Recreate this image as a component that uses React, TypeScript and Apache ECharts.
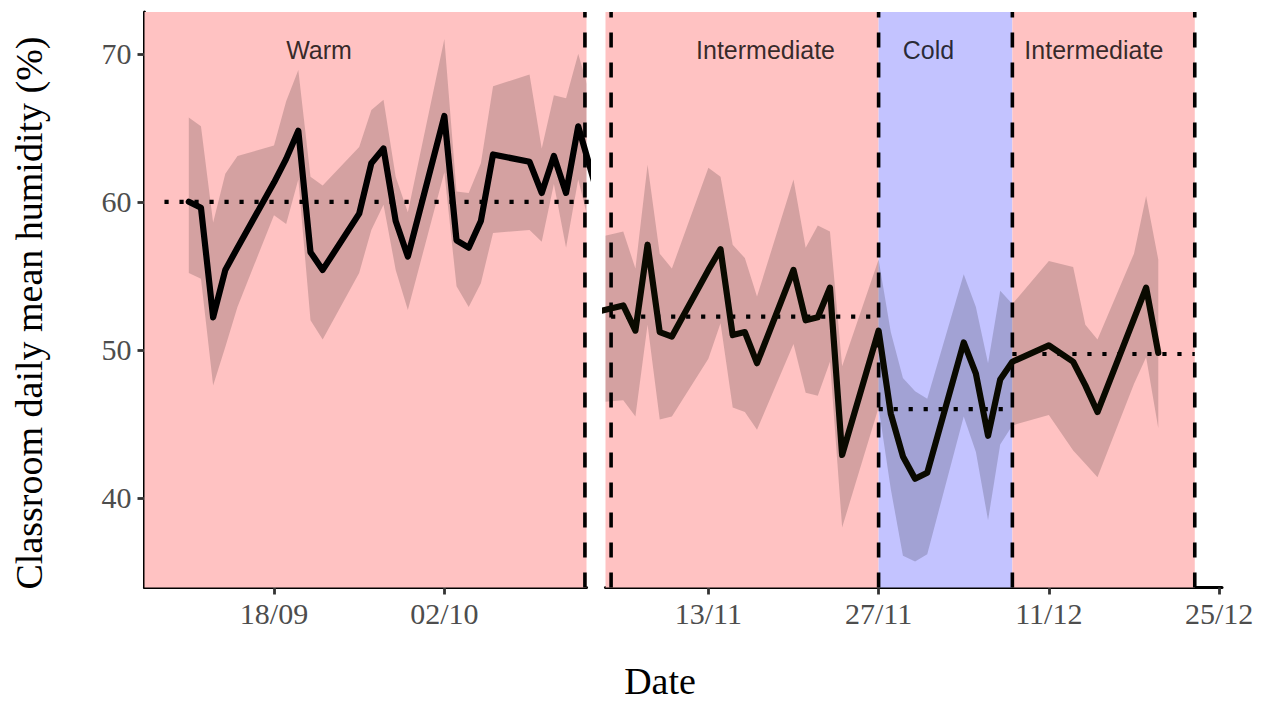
import React, { useEffect, useRef } from 'react';
import * as echarts from 'echarts';

// ---------- data ----------
const BASE = Date.UTC(2023, 8, 4);
const DAY = 86400000;
const toDay = (s: string) => (Date.parse(s.length === 10 ? s + 'T00:00:00Z' : s) - BASE) / DAY;

// Warm season panel (daily classroom mean humidity, with min/max band)
const warmDates = ['2023-09-11','2023-09-12','2023-09-13','2023-09-14','2023-09-15','2023-09-18','2023-09-19','2023-09-20','2023-09-21','2023-09-22','2023-09-25','2023-09-26','2023-09-27','2023-09-28','2023-09-29','2023-10-02','2023-10-03','2023-10-04','2023-10-05','2023-10-06','2023-10-09','2023-10-10','2023-10-11','2023-10-12','2023-10-13','2023-10-16'];
const warmMean = [60.0,59.6,52.2,55.4,56.9,61.3,62.9,64.8,56.6,55.4,59.2,62.6,63.6,58.7,56.3,65.8,57.4,56.9,58.7,63.2,62.7,60.6,63.1,60.6,65.1,56.5];
const warmHigh = [65.7,65.1,58.6,61.9,63.1,63.8,66.8,68.9,61.7,61.1,63.7,66.2,66.9,61.7,59.3,71.0,60.7,60.6,62.6,67.8,68.6,63.6,67.2,67.0,70.0,61.5];
const warmLow = [55.2,54.8,47.6,50.2,52.9,59.1,58.5,61.5,52.0,50.7,55.2,58.1,59.8,55.4,52.7,62.0,54.3,52.9,54.5,57.9,58.1,57.3,61.2,56.9,61.5,51.5];

// Autumn / winter panel
const winterDates = ['2023-11-03','2023-11-06','2023-11-07','2023-11-08','2023-11-09','2023-11-10','2023-11-13','2023-11-14','2023-11-15','2023-11-16','2023-11-17','2023-11-20','2023-11-21','2023-11-22','2023-11-23','2023-11-24','2023-11-27','2023-11-28','2023-11-29','2023-11-30','2023-12-01','2023-12-04','2023-12-05','2023-12-06','2023-12-07','2023-12-08','2023-12-11','2023-12-13','2023-12-14','2023-12-15','2023-12-18','2023-12-19','2023-12-20'];
const winterMean = [52.4,53.0,51.3,57.1,51.2,50.9,55.4,56.8,51.0,51.2,49.1,55.4,52.0,52.2,54.2,42.9,51.3,45.7,42.8,41.3,41.7,50.5,48.4,44.2,48.0,49.2,50.3,49.2,47.6,45.8,52.1,54.2,49.8];
const winterHigh = [57.4,58.0,55.5,62.5,56.5,55.5,62.3,61.7,57.1,56.2,53.6,61.5,56.9,58.4,58.0,48.9,56.1,51.2,48.1,47.2,46.7,55.1,52.9,49.1,54.0,53.1,56.0,55.6,51.7,50.7,56.5,60.4,56.1];
const winterLow = [46.4,46.6,45.5,51.7,45.3,45.5,49.4,51.8,46.1,45.8,44.6,50.4,47.1,46.9,49.2,38.0,46.1,40.6,36.1,35.7,36.2,45.5,43.1,38.5,43.6,44.9,45.6,43.2,42.3,41.4,47.7,49.5,44.7];

// Periods
const periodNames = ['Warm', 'Intermediate', 'Cold', 'Intermediate'];
const periodKind = ['warm', 'intermediate', 'cold', 'intermediate'];
const periodPanel = [0, 1, 1, 1];
const periodStart = ['2023-09-09', '2023-11-05', '2023-11-27', '2023-12-08'];
const periodEnd = ['2023-10-14', '2023-11-27', '2023-12-08', '2023-12-23'];
const periodMean = [60.0, 52.24, 46.0, 49.72];

// Period boundaries drawn as dashed lines
const boundaryDates = ['2023-10-13T13:12:00Z', '2023-11-05', '2023-11-27', '2023-12-08', '2023-12-23'];
const boundaryPanel = [0, 1, 1, 1, 1];

// Axis ticks
const xTickDates = [['2023-09-18', '2023-10-02'], ['2023-11-13', '2023-11-27', '2023-12-11', '2023-12-25']];
const yTicks = [40, 50, 60, 70];

// ---------- layout ----------
const panelXMin = [3.36, 61.54];
const panelXMax = [39.68, 112.24];
const Y_MIN = 33.95;
const Y_MAX = 72.82;
const labelDay = [17.7, 74.7, 88.1, 101.7];
const labelValue = 70.27;

const SERIF = '"Liberation Serif", "Times New Roman", serif';
const SANS = '"Liberation Sans", Arial, sans-serif';
const BG: Record<string, string> = { warm: '#FFC2C2', intermediate: '#FFC2C2', cold: '#C3C3FF' };
const RIBBON = 'rgba(0,0,0,0.17)';

const pad = (n: number) => (n < 10 ? '0' + n : '' + n);
const fmtDate = (v: number) => {
  const d = new Date(BASE + Math.round(v) * DAY);
  return pad(d.getUTCDate()) + '/' + pad(d.getUTCMonth() + 1);
};

function buildOption(): any {
  const panels = [
    { dates: warmDates, mean: warmMean, high: warmHigh, low: warmLow, color: '#000000' },
    { dates: winterDates, mean: winterMean, high: winterHigh, low: winterLow, color: '#0a0a00' },
  ];

  const series: any[] = [];

  panels.forEach((p, i) => {
    const days = p.dates.map(toDay);

    // backgrounds
    const areas: any[] = [];
    let first = true;
    periodNames.forEach((_, k) => {
      if (periodPanel[k] !== i) return;
      const from = first ? panelXMin[i] : Math.max(panelXMin[i], toDay(periodStart[k]));
      const to = k === 0 ? panelXMax[i] : Math.min(panelXMax[i], toDay(periodEnd[k]));
      first = false;
      areas.push([{ xAxis: from, itemStyle: { color: BG[periodKind[k]] } }, { xAxis: to }]);
    });

    // ribbon
    series.push({
      type: 'custom',
      xAxisIndex: i,
      yAxisIndex: i,
      silent: true,
      z: 2,
      data: days.map((d, k) => [d, p.low[k], p.high[k]]),
      encode: { x: 0, y: [1, 2] },
      renderItem: (params: any, api: any) => {
        if (params.dataIndex !== 0) return;
        const pts: number[][] = [];
        for (let k = 0; k < days.length; k++) pts.push(api.coord([days[k], p.high[k]]));
        for (let k = days.length - 1; k >= 0; k--) pts.push(api.coord([days[k], p.low[k]]));
        const cs = params.coordSys;
        return {
          type: 'polygon',
          shape: { points: pts },
          style: { fill: RIBBON },
          clipPath: { type: 'rect', shape: { x: cs.x, y: cs.y, width: cs.width, height: cs.height } },
        };
      },
    });

    // main line + background areas
    series.push({
      type: 'line',
      xAxisIndex: i,
      yAxisIndex: i,
      data: days.map((d, k) => [d, p.mean[k]]),
      showSymbol: false,
      symbol: 'none',
      silent: true,
      clip: true,
      z: 6,
      lineStyle: { color: p.color, width: 6.2, join: 'round', cap: 'round' },
      markArea: { silent: true, label: { show: false }, data: areas },
    });
  });

  // period means (dotted)
  periodNames.forEach((_, k) => {
    const i = periodPanel[k];
    series.push({
      type: 'line',
      xAxisIndex: i,
      yAxisIndex: i,
      data: [[toDay(periodStart[k]), periodMean[k]], [toDay(periodEnd[k]), periodMean[k]]],
      symbol: 'none',
      silent: true,
      clip: true,
      z: 5,
      lineStyle: { color: '#000', width: 4.2, type: [4.2, 10.8], cap: 'butt' },
    });
  });

  // boundaries (dashed)
  boundaryDates.forEach((b, k) => {
    const i = boundaryPanel[k];
    series.push({
      type: 'line',
      xAxisIndex: i,
      yAxisIndex: i,
      data: [[toDay(b), Y_MIN], [toDay(b), Y_MAX]],
      symbol: 'none',
      silent: true,
      clip: true,
      z: 4,
      lineStyle: { color: '#000', width: 3.6, type: [15, 15], cap: 'butt' },
    });
  });

  // period labels
  [0, 1].forEach((i) => {
    const data: any[] = [];
    periodNames.forEach((n, k) => {
      if (periodPanel[k] === i) data.push({ name: n, value: [labelDay[k], labelValue] });
    });
    series.push({
      type: 'scatter',
      xAxisIndex: i,
      yAxisIndex: i,
      symbolSize: 0,
      silent: true,
      z: 7,
      data,
      label: { show: true, position: 'inside', formatter: '{b}', fontFamily: SANS, fontSize: 25, color: '#000' },
    });
  });

  const xAxis = [0, 1].map((i) => {
    const ticks = xTickDates[i].map(toDay);
    return {
      type: 'value',
      gridIndex: i,
      min: panelXMin[i],
      max: panelXMax[i],
      axisLine: { show: true, onZero: false, lineStyle: { color: '#000', width: 3 } },
      axisTick: { show: true, length: 7, customValues: ticks, lineStyle: { color: '#333333', width: 2.8 } },
      axisLabel: { show: true, customValues: ticks, formatter: fmtDate, fontFamily: SERIF, fontSize: 30, color: '#4D4D4D', margin: 11 },
      splitLine: { show: false },
    };
  });

  const yAxis = [
    {
      type: 'value',
      gridIndex: 0,
      min: Y_MIN,
      max: Y_MAX,
      axisLine: { show: true, onZero: false, lineStyle: { color: '#000', width: 3 } },
      axisTick: { show: true, length: 7, customValues: yTicks, lineStyle: { color: '#333333', width: 2.8 } },
      axisLabel: { show: true, customValues: yTicks, fontFamily: SERIF, fontSize: 30, color: '#4D4D4D', margin: 13 },
      splitLine: { show: false },
    },
    {
      type: 'value',
      gridIndex: 1,
      min: Y_MIN,
      max: Y_MAX,
      show: false,
      splitLine: { show: false },
    },
  ];

  return {
    animation: false,
    backgroundColor: '#ffffff',
    grid: [
      { left: 144.5, top: 12, width: 442, height: 575.5 },
      { left: 605.5, top: 12, width: 616.5, height: 575.5 },
    ],
    xAxis,
    yAxis,
    series,
    graphic: [
      {
        type: 'text',
        x: 660,
        y: 681,
        silent: true,
        style: { text: 'Date', font: '38px ' + SERIF, lineHeight: 30, fill: '#000', textAlign: 'center', textVerticalAlign: 'middle', align: 'center', verticalAlign: 'middle' },
      },
      {
        type: 'text',
        x: 29,
        y: 313,
        rotation: Math.PI / 2,
        silent: true,
        style: { text: 'Classroom daily mean humidity (%)', font: '38px ' + SERIF, lineHeight: 30, fill: '#000', textAlign: 'center', textVerticalAlign: 'middle', align: 'center', verticalAlign: 'middle' },
      },
    ],
  };
}

export default function App() {
  const ref = useRef<HTMLDivElement>(null);
  useEffect(() => {
    const chart = echarts.init(ref.current as HTMLDivElement, null, { renderer: 'svg' });
    chart.setOption(buildOption());
    return () => chart.dispose();
  }, []);
  return <div ref={ref} style={{ position: 'absolute', left: 0, top: 0, width: 1267, height: 702 }} />;
}
